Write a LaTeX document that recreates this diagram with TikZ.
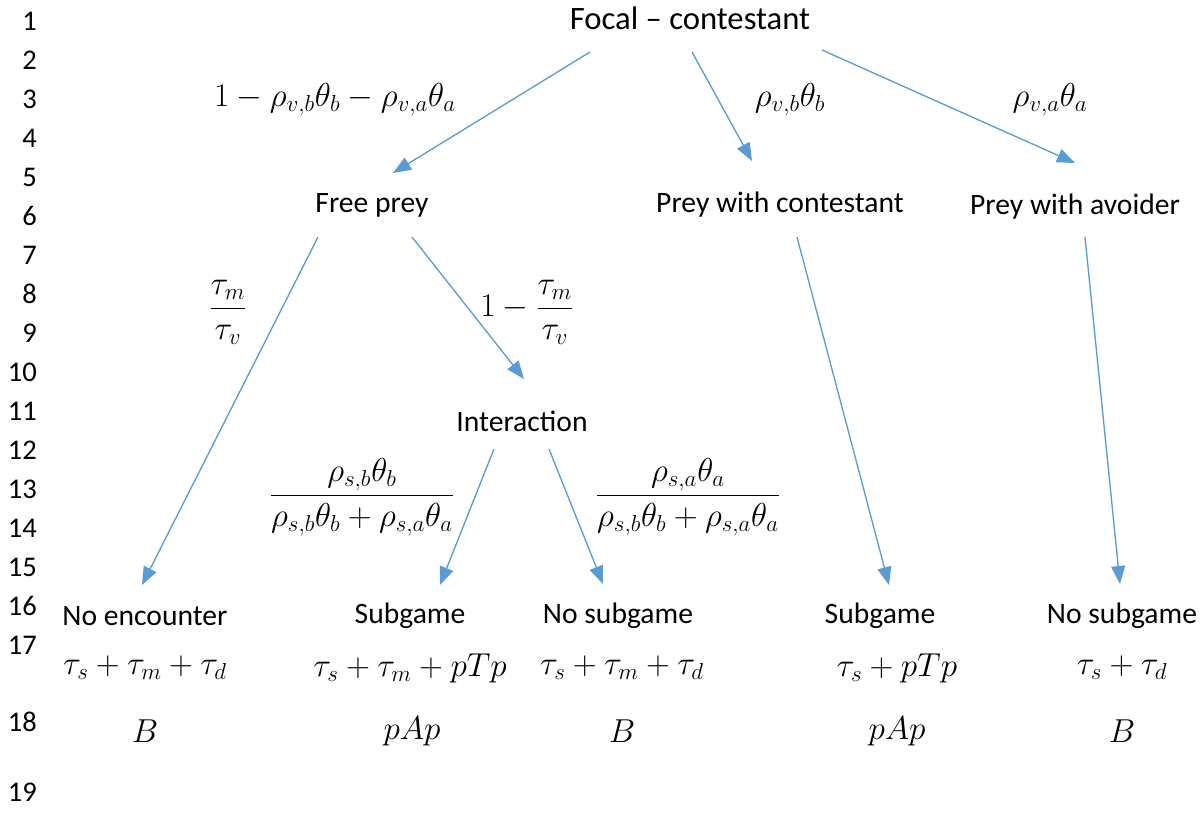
\documentclass[tikz,border=0pt]{standalone}
\usepackage{amsmath}
\usepackage{fontspec}
\setmainfont{Carlito}
\usetikzlibrary{arrows.meta}
\definecolor{arr}{HTML}{5B9BD5}
\begin{document}
\begin{tikzpicture}[x=0.75pt,y=-0.75pt,
  lbl/.style={inner sep=0pt,font=\fontsize{22.2}{26}\selectfont},
  mth/.style={inner sep=0pt,font=\fontsize{25}{29}\selectfont},
  num/.style={inner sep=0pt,anchor=east,font=\fontsize{21.4}{25}\selectfont},
  conn/.style={draw=arr,line width=1pt,-{Triangle[length=13.5pt,width=10.5pt]}}]
\useasboundingbox (0,0) rectangle (1200,821);
% line numbers
\foreach \n in {1,...,16}{
  \node[num] (ln\n) at (37,{21+39*(\n-1)}) {\n};
}
\node[num] (ln17) at (37,645) {17};
\node[num] (ln18) at (37,722) {18};
\node[num] (ln19) at (37,792) {19};
% nodes
\node[lbl,font=\fontsize{24.5}{28}\selectfont] (focal) at (690,18) {Focal – contestant};
\node[lbl] (free) at (372,205) {Free prey};
\node[lbl] (pwc) at (780,205) {Prey with contestant};
\node[lbl] (pwa) at (1075,207) {Prey with avoider};
\node[lbl] (inter) at (522,421) {Interaction};
\node[lbl] (noenc) at (145,616) {No encounter};
\node[lbl] (sub1) at (410,616) {Subgame};
\node[lbl] (nosub1) at (618,616) {No subgame};
\node[lbl] (sub2) at (880,616) {Subgame};
\node[lbl] (nosub2) at (1122,616) {No subgame};
% outcome values
\node[mth] (t1) at (145,668) {$\tau_s+\tau_m+\tau_d$};
\node[mth] (t2) at (410,668) {$\tau_s+\tau_m+pTp$};
\node[mth] (t3) at (622,668) {$\tau_s+\tau_m+\tau_d$};
\node[mth] (t4) at (897,668) {$\tau_s+pTp$};
\node[mth] (t5) at (1122,668) {$\tau_s+\tau_d$};
\node[mth] (p1) at (145,731) {$B$};
\node[mth] (p2) at (412,731) {$pAp$};
\node[mth] (p3) at (622,731) {$B$};
\node[mth] (p4) at (897,731) {$pAp$};
\node[mth] (p5) at (1122,731) {$B$};
% edge labels
\node[mth] (l1) at (335,100) {$1-\rho_{v,b}\theta_b-\rho_{v,a}\theta_a$};
\node[mth] (l2) at (790,100) {$\rho_{v,b}\theta_b$};
\node[mth] (l3) at (1050,100) {$\rho_{v,a}\theta_a$};
\node[mth] (l4) at (228,312) {$\dfrac{\tau_m}{\tau_v}$};
\node[mth] (l5) at (527,312) {$1-\dfrac{\tau_m}{\tau_v}$};
\node[mth] (l6) at (362,497) {$\dfrac{\rho_{s,b}\theta_b}{\rho_{s,b}\theta_b+\rho_{s,a}\theta_a}$};
\node[mth] (l7) at (688,497) {$\dfrac{\rho_{s,a}\theta_a}{\rho_{s,b}\theta_b+\rho_{s,a}\theta_a}$};
% connector end points
\coordinate (focalA) at (590,52);   \coordinate (freeIn) at (393,173);
\coordinate (focalB) at (692,52);   \coordinate (pwcIn) at (752,161);
\coordinate (focalC) at (822,50);   \coordinate (pwaIn) at (1075,163);
\coordinate (freeA) at (318,237);   \coordinate (noencIn) at (142,585);
\coordinate (freeB) at (412,237);   \coordinate (interIn) at (524,379);
\coordinate (interA) at (494,449);  \coordinate (sub1In) at (440,585);
\coordinate (interB) at (549,449);  \coordinate (nosub1In) at (603,584);
\coordinate (pwcA) at (797,237);    \coordinate (sub2In) at (889,585);
\coordinate (pwaA) at (1085,237);   \coordinate (nosub2In) at (1120,584);
% connectors
\draw[conn] (focalA) -- (freeIn);
\draw[conn] (focalB) -- (pwcIn);
\draw[conn] (focalC) -- (pwaIn);
\draw[conn] (freeA) -- (noencIn);
\draw[conn] (freeB) -- (interIn);
\draw[conn] (interA) -- (sub1In);
\draw[conn] (interB) -- (nosub1In);
\draw[conn] (pwcA) -- (sub2In);
\draw[conn] (pwaA) -- (nosub2In);
\end{tikzpicture}
\end{document}
